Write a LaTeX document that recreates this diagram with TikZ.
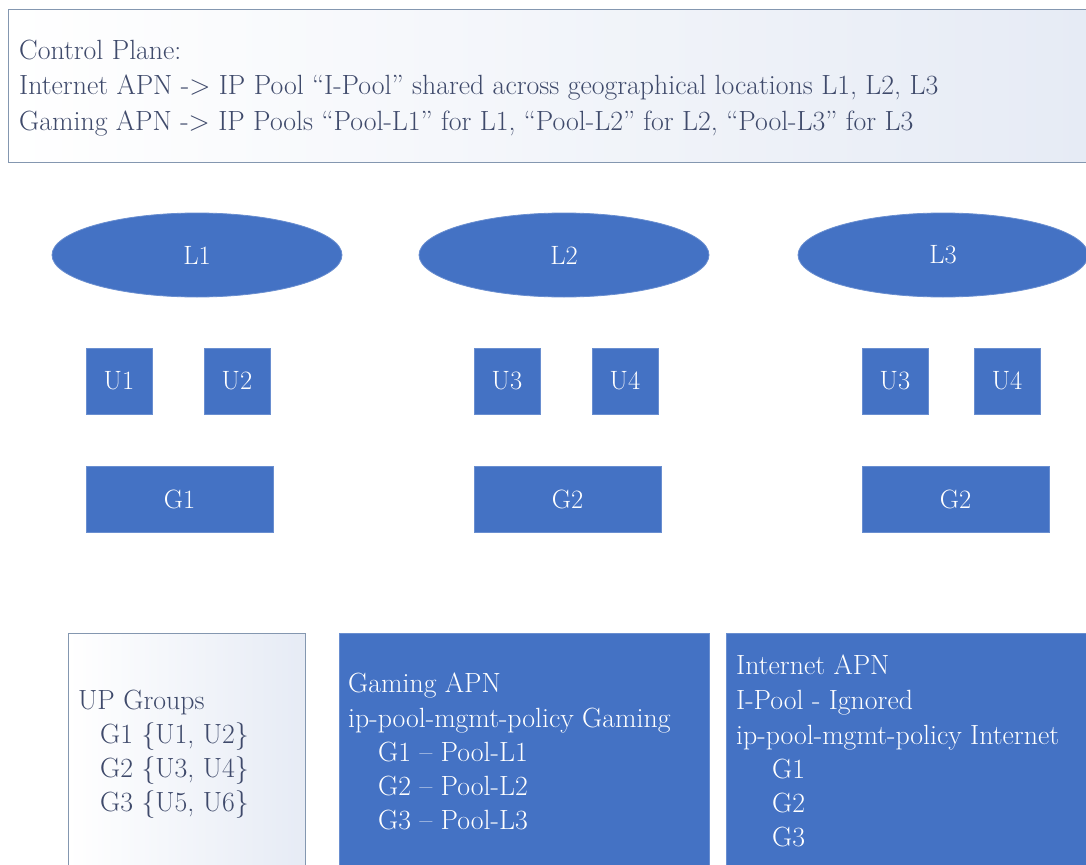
\documentclass[tikz,border=0pt]{standalone}
\usepackage{fontspec}
\usetikzlibrary{shapes.geometric}
\definecolor{blu}{HTML}{4472C4}
\definecolor{ink}{HTML}{3F4A6B}
\definecolor{edge}{HTML}{8497B0}
\definecolor{pale}{HTML}{E6EBF5}
\begin{document}
\begin{tikzpicture}[x=1pt,y=-1pt,
  txt/.style={anchor=base west,inner sep=0pt,font=\fontsize{27.8}{32}\selectfont},
  dark/.style={txt,text=ink},
  light/.style={txt,text=white},
  lightbox/.style={draw=edge,line width=1pt,left color=white,right color=pale},
  bluebox/.style={fill=blu,draw=blu!80!white,line width=0.8pt},
  shapefont/.style={text=white,font=\fontsize{26.5}{30}\selectfont},
  loc/.style={ellipse,fill=blu,draw=blu!80!white,line width=0.8pt,minimum width=290pt,minimum height=84pt,inner sep=0pt,shapefont},
  ubox/.style={rectangle,fill=blu,draw=blu!80!white,line width=0.8pt,minimum width=66pt,minimum height=66pt,inner sep=0pt,shapefont},
  gbox/.style={rectangle,fill=blu,draw=blu!80!white,line width=0.8pt,minimum width=187pt,minimum height=66pt,inner sep=0pt,shapefont}]
\useasboundingbox (0,0) rectangle (1086,864);
\fill[white] (0,0) rectangle (1086,864);
% control plane box
\path[lightbox] (8,10) rectangle (1090,162);
\node[dark] (cp1) at (19,60) {Control Plane:};
\node[dark] (cp2) at (19,95) {Internet APN -> IP Pool “I-Pool” shared across geographical locations L1, L2, L3};
\node[dark] (cp3) at (19,130) {Gaming APN -> IP Pools “Pool-L1” for L1, “Pool-L2” for L2, “Pool-L3” for L3};
% locations
\node[loc] (L1) at (197,255) {L1};
\node[loc] (L2) at (564,255) {L2};
\node[loc] (L3) at (943,255) {L3};
% UPs
\node[ubox] (U1) at (119,381) {U1};
\node[ubox] (U2) at (237,381) {U2};
\node[ubox] (U3a) at (507,381) {U3};
\node[ubox] (U4a) at (625,381) {U4};
\node[ubox] (U3b) at (895,381) {U3};
\node[ubox] (U4b) at (1007,381) {U4};
% groups
\node[gbox] (G1) at (179.5,499) {G1};
\node[gbox] (G2a) at (567.5,499) {G2};
\node[gbox] (G2b) at (955.5,499) {G2};
% UP groups box
\path[lightbox] (68,633) rectangle (305,870);
\node[dark] (up0) at (78,709) {UP Groups};
\node[dark] (up1) at (100,743) {G1 \{U1, U2\}};
\node[dark] (up2) at (100,777) {G2 \{U3, U4\}};
\node[dark] (up3) at (100,811) {G3 \{U5, U6\}};
% gaming box
\path[bluebox] (339,633) rectangle (709,870);
\node[light] (ga0) at (348,692) {Gaming APN};
\node[light] (ga1) at (348,727) {ip-pool-mgmt-policy Gaming};
\node[light] (ga2) at (378,761) {G1 – Pool-L1};
\node[light] (ga3) at (378,795) {G2 – Pool-L2};
\node[light] (ga4) at (378,829) {G3 – Pool-L3};
% internet box
\path[bluebox] (726,633) rectangle (1092,870);
\node[light] (in0) at (736,674) {Internet APN};
\node[light] (in1) at (736,709) {I-Pool - Ignored};
\node[light] (in2) at (736,744) {ip-pool-mgmt-policy Internet};
\node[light] (in3) at (772,778) {G1};
\node[light] (in4) at (772,812) {G2};
\node[light] (in5) at (772,846) {G3};
\end{tikzpicture}
\end{document}
